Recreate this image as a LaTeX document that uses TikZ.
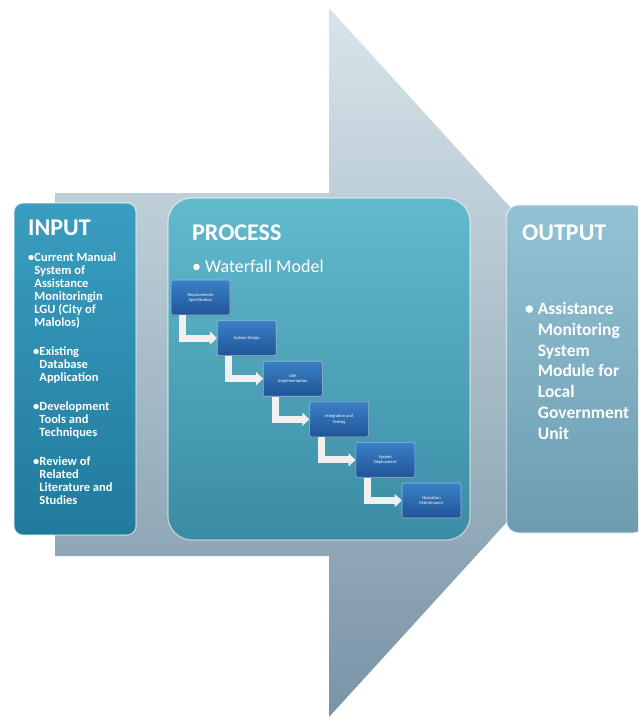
\documentclass[tikz,border=0pt]{standalone}
\usepackage{fontspec}
\setmainfont{Carlito}
\usetikzlibrary{arrows.meta,shadows}
\definecolor{arrowtop}{HTML}{D8E4EA}
\definecolor{arrowbot}{HTML}{7894A6}
\definecolor{intop}{HTML}{3A9EC1}
\definecolor{inbot}{HTML}{207A9C}
\definecolor{proctop}{HTML}{62BACD}
\definecolor{procbot}{HTML}{3A8CA5}
\definecolor{outtop}{HTML}{93C2D4}
\definecolor{outbot}{HTML}{6C9CB0}
\definecolor{stagetop}{HTML}{3B80C6}
\definecolor{stagebot}{HTML}{1F5597}
\newcommand\hind{\hphantom{•}}
\tikzset{
  panel/.style = {rectangle, draw=white, draw opacity=0.55, line width=1.2pt,
                  inner sep=0pt},
  title/.style = {anchor=base west, inner sep=0pt, text=white,
                  font=\fontsize{24}{26}\selectfont\bfseries},
  body/.style  = {anchor=north west, inner sep=0pt, align=left, text=white,
                  font=\fontsize{12.5}{13}\selectfont\bfseries},
  big/.style   = {body, font=\fontsize{17.5}{20.8}\selectfont\bfseries},
  stage/.style = {rectangle, rounded corners=2pt, minimum width=59pt,
                  minimum height=35pt, inner sep=1pt, top color=stagetop,
                  bottom color=stagebot, draw=stagetop!55!white, line width=0.6pt,
                  align=center, text=white, font=\fontsize{4.5}{5.2}\selectfont,
                  drop shadow={opacity=0.3, shadow xshift=1pt, shadow yshift=-1.5pt}},
  flow/.style  = {draw=white!88!gray, line width=7pt,
                  -{Triangle[length=7pt,width=13pt]}},
}

\begin{document}
\begin{tikzpicture}[x=1pt, y=-1pt]
\useasboundingbox (0,0) rectangle (638,717);
\clip (0,0) rectangle (638,717);
\fill[white] (0,0) rectangle (638,717);

% big arrow behind everything
\shade[top color=arrowtop, bottom color=arrowbot]
  (329,8) -- (652,363) -- (329,717) -- (329,556) -- (55,556)
  -- (55,193) -- (329,193) -- cycle;

% the three panels
\node[panel, minimum width=122pt, minimum height=332pt, rounded corners=9pt,
      top color=intop, bottom color=inbot] (input) at (75,369) {};
\node[panel, minimum width=302pt, minimum height=342pt, rounded corners=24pt,
      top color=proctop, bottom color=procbot] (process) at (319,369) {};
\node[panel, minimum width=139pt, minimum height=328pt, rounded corners=12pt,
      top color=outtop, bottom color=outbot] (output) at (576,369) {};

% input column
\node[title] (intitle) at (28,235) {INPUT};
\node[body] (in1) at (28,253) {•Current Manual\\\hind System of\\\hind Assistance\\
      \hind Monitoringin\\\hind LGU (City of\\\hind Malolos)};
\node[body] (in2) at (33,347) {•Existing\\\hind Database\\\hind Application};
\node[body] (in3) at (33,402) {•Development\\\hind Tools and\\\hind Techniques};
\node[body] (in4) at (33,457) {•Review of\\\hind Related\\\hind Literature and\\\hind Studies};

% process column
\node[title] (proctitle) at (192,240) {PROCESS};
\node[anchor=base west, inner sep=0pt, text=white, font=\fontsize{18}{20}\selectfont]
     (model) at (192,272) {• Waterfall Model};

\node[stage] (s1) at (200.5,297.5) {Requirements\\Specification};
\node[stage] (s2) at (246.7,338.1) {System Design};
\node[stage] (s3) at (292.9,378.7) {Unit\\Implementation};
\node[stage] (s4) at (339.1,419.3) {Integration and\\Testing};
\node[stage] (s5) at (385.3,459.9) {System\\Deployment};
\node[stage] (s6) at (431.5,500.5) {Operation\\Maintenance};

\draw[flow] ([xshift=12pt]s1.south west) |- (s2.west);
\draw[flow] ([xshift=12pt]s2.south west) |- (s3.west);
\draw[flow] ([xshift=12pt]s3.south west) |- (s4.west);
\draw[flow] ([xshift=12pt]s4.south west) |- (s5.west);
\draw[flow] ([xshift=12pt]s5.south west) |- (s6.west);

% output column
\node[title] (outtitle) at (522,240) {OUTPUT};
\node[big] (out1) at (525,302) {• Assistance\\\hphantom{• }Monitoring\\\hphantom{• }System\\
      \hphantom{• }Module for\\\hphantom{• }Local\\\hphantom{• }Government\\\hphantom{• }Unit};
\end{tikzpicture}
\end{document}
